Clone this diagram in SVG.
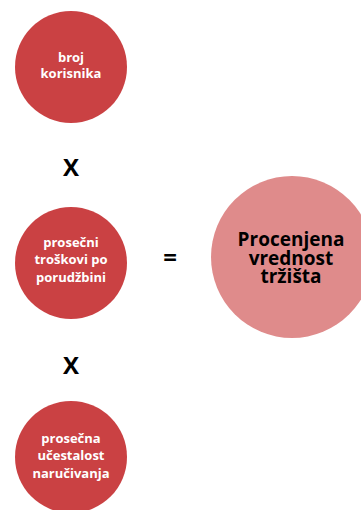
<svg xmlns="http://www.w3.org/2000/svg" width="361" height="510" viewBox="0 0 361 510">
<style>
.f{fill:#CA4143}
.t{font-family:"Open Sans","Liberation Sans",sans-serif;font-weight:bold;font-size:13px;fill:#fff;text-anchor:middle}
.b{font-family:"Open Sans","Liberation Sans",sans-serif;font-weight:bold;font-size:19px;fill:#000;text-anchor:middle}
.o{font-family:"Open Sans","Liberation Sans",sans-serif;font-weight:bold;font-size:24px;fill:#000;text-anchor:middle}
</style>
<rect width="361" height="510" fill="#fff"/>
<g id="n1"><circle class="f" cx="71" cy="67" r="56"/><text class="t" x="71" y="62">broj</text><text class="t" x="71" y="78">korisnika</text></g>
<g id="n2"><circle class="f" cx="71" cy="263" r="56"/><text class="t" x="71" y="247">prosečni</text><text class="t" x="71" y="264">troškovi po</text><text class="t" x="71" y="282">porudžbini</text></g>
<g id="n3"><circle class="f" cx="71" cy="457" r="56"/><text class="t" x="71" y="443">prosečna</text><text class="t" x="71" y="460">učestalost</text><text class="t" x="71" y="478">naručivanja</text></g>
<g id="n4"><circle fill="#DF8B8B" cx="292" cy="257" r="81"/><text class="b" x="291" y="246">Procenjena</text><text class="b" x="291" y="265">vrednost</text><text class="b" x="291" y="283">tržišta</text></g>
<g id="ops"><text class="o" x="71" y="176">X</text><text class="o" x="71" y="374">X</text><text class="o" x="170" y="266">=</text></g>
</svg>
